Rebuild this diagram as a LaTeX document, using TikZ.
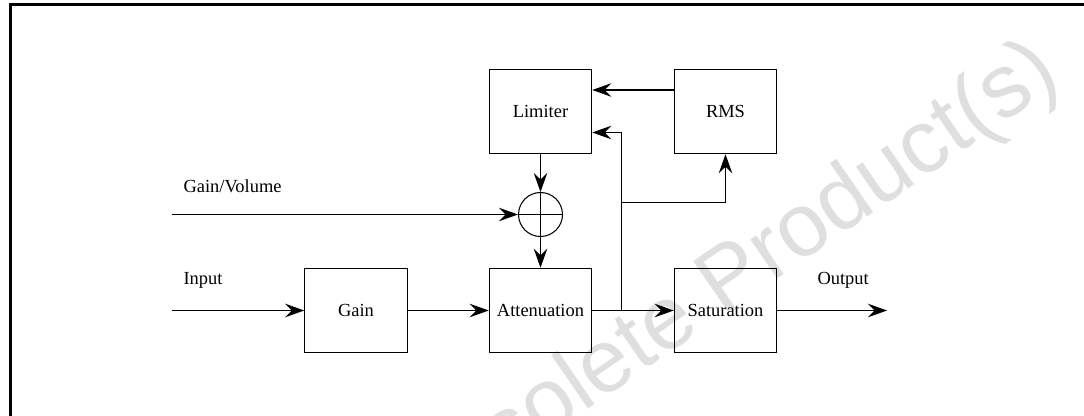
\documentclass[tikz,border=0pt]{standalone}
\usepackage{fontspec}
\setmainfont{Liberation Serif}
\newfontfamily\marksans{Liberation Sans}
\usetikzlibrary{arrows.meta,positioning,calc}

\begin{document}
\begin{tikzpicture}[
    line width=0.6pt,
    font=\fontsize{10.5}{12.6}\selectfont,
    block/.style={draw,minimum width=2.05cm,minimum height=1.69cm,inner sep=0pt},
    sumnode/.style={draw,circle,minimum size=0.88cm,inner sep=0pt},
    sig/.style={-{Stealth[length=0.38cm,width=0.27cm,inset=0.13cm]}},
    lbl/.style={anchor=base west,inner sep=0pt},
  ]
  \useasboundingbox (0,0) rectangle (21.68,-8.32);
  % watermark
  \node[rotate=34.5,text=gray!25,inner sep=0pt,font=\marksans\fontsize{51}{60}\selectfont] (mark) at (14.44,-5.78) {Obsolete Product(s)};
  % frame
  \draw[line width=1.7pt] (0.21,-8.5) -- (0.21,-0.094) -- (21.9,-0.094);
  % blocks
  \node[block] (gain) at (7.12,-6.21) {Gain};
  \node[block] (att) at (10.81,-6.21) {Attenuation};
  \node[block] (sat) at (14.51,-6.21) {Saturation};
  \node[block] (lim) at (10.81,-2.23) {Limiter};
  \node[block] (rms) at (14.51,-2.23) {RMS};
  \node[sumnode] (sum) at (10.81,-4.29) {};
  \draw (sum.north) -- (sum.south) (sum.west) -- (sum.east);
  % signal ends
  \coordinate (in) at (3.44,-6.21);
  \coordinate (vol) at (3.44,-4.29);
  \coordinate (out) at (17.74,-6.21);
  \coordinate (tap) at (12.43,-6.21);
  \coordinate (branch) at (12.43,-4.05);
  % labels
  \node[lbl] (lblvol) at (3.66,-3.86) {Gain/Volume};
  \node[lbl] (lblin) at (3.66,-5.70) {Input};
  \node[lbl] (lblout) at (16.34,-5.70) {Output};
  % main path
  \draw[sig] (in) -- (gain.west);
  \draw[sig] (gain) -- (att);
  \draw[sig] (att) -- (sat);
  \draw[sig] (sat) -- (out);
  % gain control
  \draw[sig] (vol) -- (sum.west);
  \draw[sig] (lim) -- (sum.north);
  \draw[sig] (sum.south) -- (att);
  % feedback
  \draw[sig] (tap) |- ([yshift=-0.42cm]lim.east);
  \draw[sig] (branch) -| (rms.south);
  \draw[sig] ([yshift=0.43cm]rms.west) -- ([yshift=0.43cm]lim.east);
\end{tikzpicture}
\end{document}
